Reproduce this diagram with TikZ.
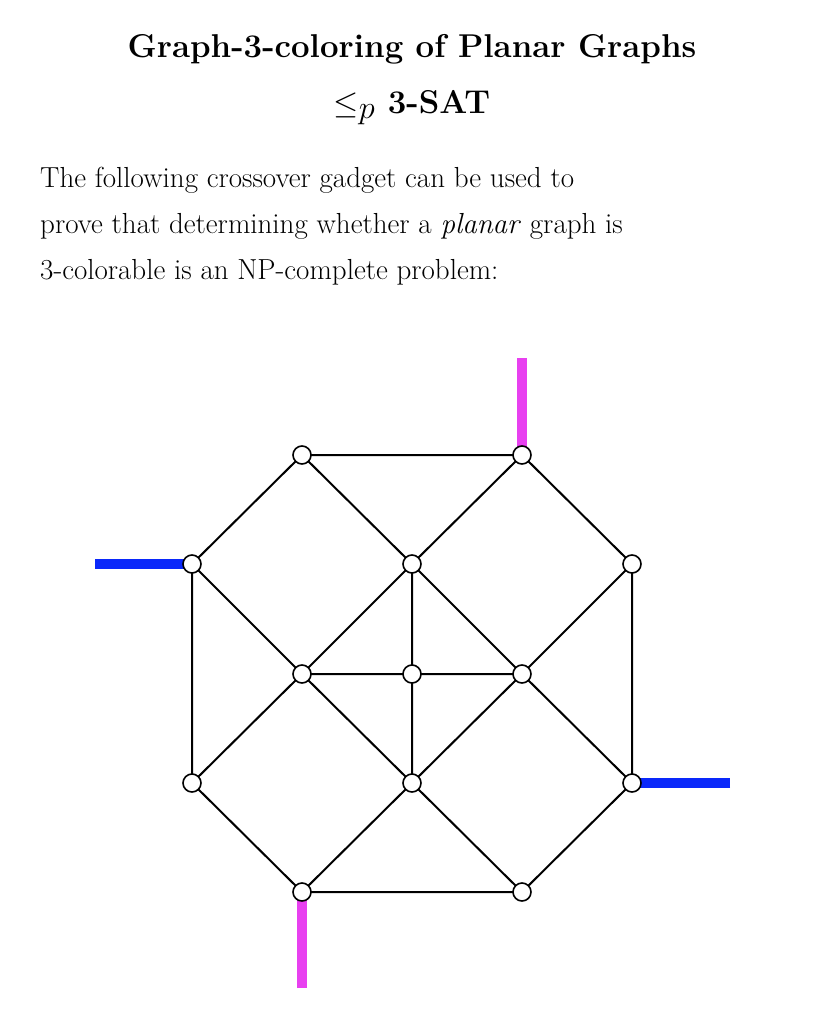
\documentclass[tikz,border=0pt]{standalone}
\usepackage{amsmath}
\usepackage{fontspec}
\tikzset{v/.style={circle,draw,fill=white,line width=1.6pt,minimum size=18pt,inner sep=0pt},
e/.style={line width=2pt},
mag/.style={line width=10pt,draw={rgb,255:red,232;green,64;blue,240}},
blu/.style={line width=10pt,draw={rgb,255:red,10;green,40;blue,250}},
txt/.style={anchor=west,inner sep=0pt,font=\fontsize{29}{46}\selectfont}}
\begin{document}
\begin{tikzpicture}[x=1pt,y=-1pt]
\useasboundingbox (0,0) rectangle (833,1024);
\node[font=\fontsize{33}{56}\selectfont\bfseries,align=center] (title) at (412,80) {Graph-3-coloring of Planar Graphs\\\scalebox{1.3}{$\leq_p$} 3-SAT};
\node[txt] (l1) at (40,180) {The following crossover gadget can be used to};
\node[txt] (l2) at (40,226) {prove that determining whether a \textit{planar} graph is};
\node[txt] (l3) at (40,272) {3-colorable is an NP-complete problem:};
\coordinate (s1) at (522,358); \coordinate (s2) at (95,564);
\coordinate (s3) at (730,783); \coordinate (s4) at (302,988);
\path (302,455) coordinate (a) (522,455) coordinate (b)
(192,564) coordinate (c) (412,564) coordinate (d) (632,564) coordinate (f)
(302,674) coordinate (g) (412,674) coordinate (h) (522,674) coordinate (i)
(192,783) coordinate (j) (412,783) coordinate (k) (632,783) coordinate (l)
(302,892) coordinate (m) (522,892) coordinate (n);
\draw[mag] (s1)--(b); \draw[mag] (s4)--(m);
\draw[blu] (s2)--(c); \draw[blu] (s3)--(l);
\draw[e] (a)--(b) (a)--(c) (a)--(d) (b)--(d) (b)--(f) (c)--(j) (c)--(g)
(d)--(g) (d)--(i) (d)--(h) (f)--(i) (f)--(l) (g)--(h)--(i) (g)--(j) (g)--(k)
(h)--(k) (i)--(k) (i)--(l) (j)--(m) (k)--(m) (k)--(n) (l)--(n) (m)--(n);
\foreach \p in {a,b,c,d,f,g,h,i,j,k,l,m,n} \node[v] (n\p) at (\p) {};
\end{tikzpicture}
\end{document}
